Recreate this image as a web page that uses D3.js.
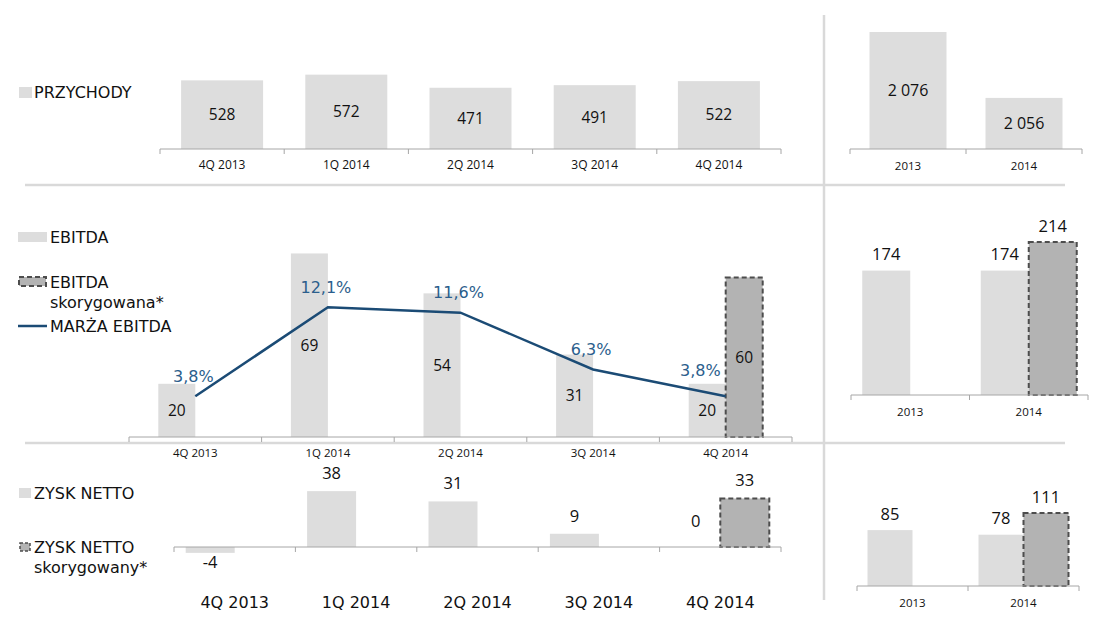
<!DOCTYPE html>
<html>
<head>
<meta charset="utf-8">
<script src="https://cdn.jsdelivr.net/npm/d3@7"></script>
<style>
  body { margin: 0; background: #fff; }
  svg { display: block; }
</style>
</head>
<body>
<svg id="chart" width="1100" height="623"></svg>
<script>
// dane (mln zł)
var quarters = ['4Q 2013', '1Q 2014', '2Q 2014', '3Q 2014', '4Q 2014'];
var years = ['2013', '2014'];

var revenueQ = [528, 572, 471, 491, 522];
var revenueY = [2076, 2056];

var ebitdaQ = [20, 69, 54, 31, 20];
var ebitdaAdjQ = [null, null, null, null, 60];
var marginQ = [0.038, 0.121, 0.116, 0.063, 0.038];
var ebitdaY = [174, 174];
var ebitdaAdjY = [null, 214];

var netQ = [-4, 38, 31, 9, 0];
var netAdjQ = [null, null, null, null, 33];
var netY = [85, 78];
var netAdjY = [null, 111];

var svg = d3.select('#chart');

var pl = d3.formatLocale({decimal: ',', thousands: '\u00a0', grouping: [3], currency: ['', ''], minus: '-'});
var num = pl.format(',d'),
    pct = pl.format('.1%');

var light = '#dddddd',
    dark = '#b3b3b3',
    dashStroke = '#4d4d4d',
    sep = '#d9d9d9',
    navy = '#1b4b75',
    navyText = '#2b5e8c',
    ink = '#111111';

var valueFont = '"Open Sans", sans-serif',
    legendFont = '"DejaVu Sans", Verdana, sans-serif';

// separatory
svg.append('line').attr('x1', 824).attr('x2', 824).attr('y1', 15).attr('y2', 600)
  .attr('stroke', sep).attr('stroke-width', 2.5);
[185, 443].forEach(function (yy) {
  svg.append('line').attr('x1', 25).attr('x2', 1065).attr('y1', yy).attr('y2', yy)
    .attr('stroke', sep).attr('stroke-width', 2.5);
});

var panel = function (opt) {
  var g = svg.append('g');
  var x = d3.scaleBand().domain(opt.cats).range(opt.xr);
  var cx = function (c) { return x(c) + x.bandwidth() / 2; };
  var y = opt.y;
  var base = y(opt.floor || 0);
  var w = opt.barW;

  opt.series.forEach(function (s, si) {
    var n = opt.series.length;
    var data = s.values.map(function (v, i) { return {c: opt.cats[i], v: v}; })
      .filter(function (d) { return d.v !== null; });
    var bx = function (d) { return n === 1 ? cx(d.c) - w / 2 : cx(d.c) + (si - 1) * w; };

    var r = g.selectAll('rect.s' + si).data(data).enter().append('rect')
      .attr('x', bx)
      .attr('y', function (d) { return Math.min(y(d.v), base); })
      .attr('width', w)
      .attr('height', function (d) { return Math.abs(base - y(d.v)); })
      .attr('fill', s.adj ? dark : light);
    if (s.adj) {
      r.attr('stroke', dashStroke).attr('stroke-width', 2).attr('stroke-dasharray', '5,3');
    }

    g.selectAll('text.v' + si).data(data).enter().append('text')
      .attr('x', function (d) { return bx(d) + w / 2; })
      .attr('y', function (d) {
        if (opt.label === 'inside') return (y(d.v) + base) / 2;
        if (d.v < 0) return y(d.v) + 9;
        // zero bars have their label lifted like in the source deck
        return d.v === 0 ? y(d.v) - opt.gap - 8 : y(d.v) - opt.gap;
      })
      .attr('dy', '0.35em')
      .attr('text-anchor', 'middle')
      .attr('font-family', opt.valueFamily || valueFont)
      .attr('font-size', opt.valueSize)
      .attr('fill', ink)
      .text(function (d) { return num(d.v); });
  });

  // oś
  g.append('line').attr('x1', opt.xr[0]).attr('x2', opt.xr[1]).attr('y1', base).attr('y2', base)
    .attr('stroke', '#a6a6a6');
  g.selectAll('line.tk').data(opt.cats.map(function (c) { return x(c); }).concat([opt.xr[1]]))
    .enter().append('line')
    .attr('x1', function (d) { return d; }).attr('x2', function (d) { return d; })
    .attr('y1', base).attr('y2', base + 5)
    .attr('stroke', '#a6a6a6');
  g.selectAll('text.cat').data(opt.cats).enter().append('text')
    .attr('x', cx)
    .attr('y', base + opt.catDy)
    .attr('dy', '0.35em')
    .attr('text-anchor', 'middle')
    .attr('font-family', opt.catFamily || valueFont)
    .attr('font-size', opt.catSize)
    .attr('fill', ink)
    .text(function (d) { return d; });

  return {x: x, cx: cx, g: g};
};

// PRZYCHODY
panel({
  cats: quarters, xr: [160, 781], barW: 82,
  y: d3.scaleLinear().domain([0, 600]).range([149, 71]),
  series: [{values: revenueQ}], label: 'inside', valueSize: 15.5,
  catDy: 16, catSize: 12
});
panel({
  cats: years, xr: [850, 1082], barW: 77, floor: 2040.5,
  y: d3.scaleLinear().domain([2040.5, 2076]).range([149, 32]),
  series: [{values: revenueY}], label: 'inside', valueSize: 16,
  catDy: 17, catSize: 11.5
});

// EBITDA
var ebit = panel({
  cats: quarters, xr: [129, 792], barW: 37,
  y: d3.scaleLinear().domain([0, 70]).range([437, 250.8]),
  series: [{values: ebitdaQ}, {values: ebitdaAdjQ, adj: true}], label: 'inside', valueSize: 15.5,
  catDy: 16, catSize: 11.5
});
var ym = d3.scaleLinear().domain([0, 0.15]).range([437, 276.2]);
var mData = marginQ.map(function (v, i) { return {c: quarters[i], v: v}; });
ebit.g.append('path')
  .datum(mData)
  .attr('fill', 'none')
  .attr('stroke', navy)
  .attr('stroke-width', 2.5)
  .attr('d', d3.line().x(function (d) { return ebit.cx(d.c); }).y(function (d) { return ym(d.v); }));
ebit.g.selectAll('text.m').data(mData).enter().append('text')
  .attr('x', function (d, i) { return i === mData.length - 1 ? ebit.cx(d.c) - 5 : ebit.cx(d.c) - 2; })
  .attr('y', function (d, i) { return ym(d.v) - (i === mData.length - 1 ? 26 : 20); })
  .attr('dy', '0.35em')
  .attr('text-anchor', function (d, i) { return i === mData.length - 1 ? 'end' : 'middle'; })
  .attr('font-family', legendFont)
  .attr('font-size', 16)
  .attr('fill', navyText)
  .text(function (d) { return pct(d.v); });

panel({
  cats: years, xr: [851, 1088], barW: 48,
  y: d3.scaleLinear().domain([0, 214]).range([395, 242]),
  series: [{values: ebitdaY}, {values: ebitdaAdjY, adj: true}], label: 'above', gap: 16, valueSize: 16.5,
  catDy: 17, catSize: 11.5
});

// ZYSK NETTO
panel({
  cats: quarters, xr: [174, 781], barW: 49,
  y: d3.scaleLinear().domain([0, 40]).range([547, 488.2]),
  series: [{values: netQ}, {values: netAdjQ, adj: true}], label: 'above', gap: 18, valueSize: 16.5,
  catDy: 55, catSize: 16, catFamily: legendFont
});
panel({
  cats: years, xr: [857, 1079], barW: 45,
  y: d3.scaleLinear().domain([0, 111]).range([586, 513]),
  series: [{values: netY}, {values: netAdjY, adj: true}], label: 'above', gap: 16, valueSize: 16.5,
  catDy: 17, catSize: 11.5
});

// legenda
var leg = svg.append('g')
  .attr('font-family', legendFont)
  .attr('font-size', 16)
  .attr('fill', ink);

var legText = function (x, y, lines) {
  leg.append('text').attr('x', x).attr('y', y).attr('dy', '0.35em')
    .selectAll('tspan').data(lines).enter().append('tspan')
    .attr('x', x)
    .attr('dy', function (d, i) { return i === 0 ? '0.35em' : '1.3em'; })
    .text(function (d) { return d; });
};

leg.append('rect').attr('x', 19).attr('y', 87).attr('width', 13).attr('height', 11).attr('fill', light);
legText(34, 92, ['PRZYCHODY']);

leg.append('rect').attr('x', 18).attr('y', 232).attr('width', 29).attr('height', 10).attr('fill', light);
legText(50, 237, ['EBITDA']);
leg.append('rect').attr('x', 19).attr('y', 277).attr('width', 27).attr('height', 9).attr('fill', dark)
  .attr('stroke', dashStroke).attr('stroke-width', 2).attr('stroke-dasharray', '5,3');
legText(50, 282, ['EBITDA', 'skorygowana*']);
leg.append('line').attr('x1', 18).attr('x2', 47).attr('y1', 326).attr('y2', 326)
  .attr('stroke', navy).attr('stroke-width', 2.5);
legText(50, 326, ['MARŻA EBITDA']);

leg.append('rect').attr('x', 19).attr('y', 488).attr('width', 12).attr('height', 10).attr('fill', light);
legText(34, 493, ['ZYSK NETTO']);
leg.append('rect').attr('x', 20).attr('y', 543).attr('width', 10).attr('height', 8).attr('fill', dark)
  .attr('stroke', dashStroke).attr('stroke-width', 1.5).attr('stroke-dasharray', '3,2');
legText(34, 547, ['ZYSK NETTO', 'skorygowany*']);
</script>
</body>
</html>
